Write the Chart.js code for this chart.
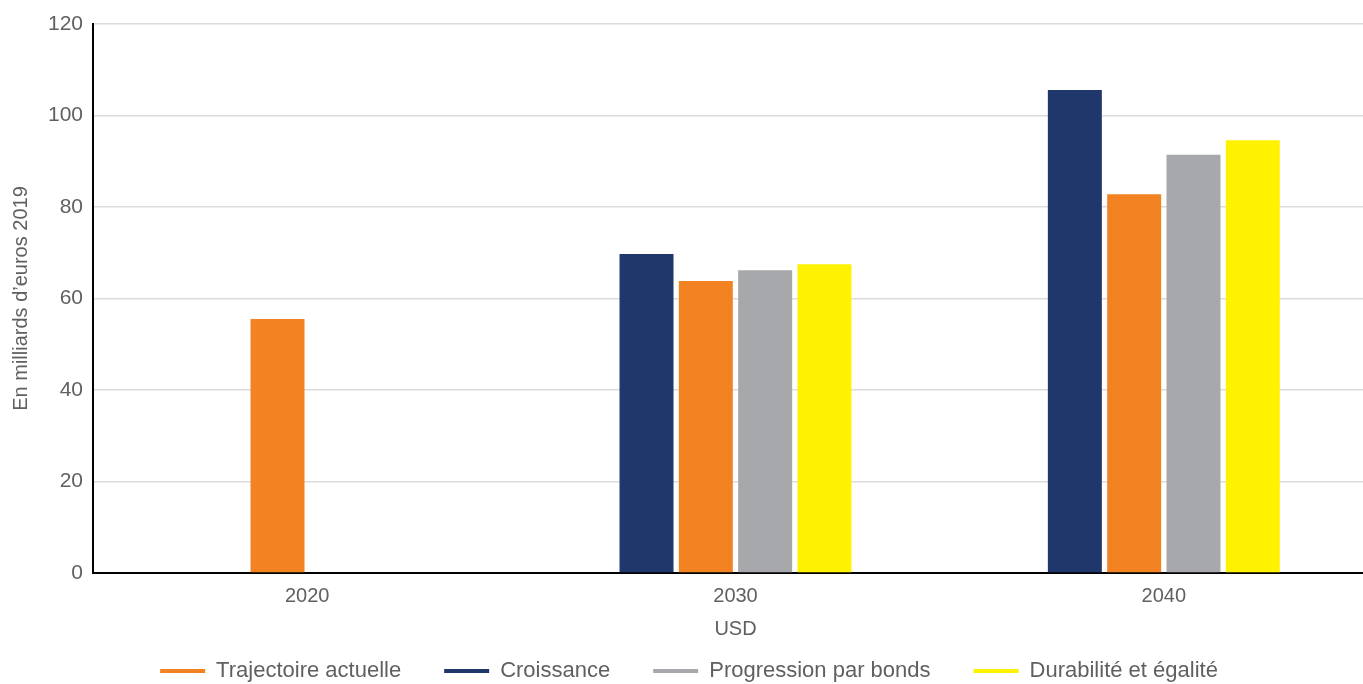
<!DOCTYPE html>
<html lang="fr">
<head>
<meta charset="utf-8">
<title>En milliards d’euros 2019</title>
<script src="https://cdn.jsdelivr.net/npm/chart.js@4/dist/chart.umd.min.js"></script>
<style>
  html, body { margin: 0; padding: 0; background: #fff; overflow: hidden; }
  canvas { display: block; }
</style>
</head>
<body>
<!-- a bit wider than the window: the plot runs past the right edge like the original -->
<canvas id="myChart" width="1378" height="692"></canvas>
<script>
// values
const years = ['2020', '2030', '2040'];
const croissance = [null, 69.7, 105.6];
const trajectoire = [55.5, 63.8, 82.8];
const progression = [null, 66.2, 91.4];
const durabilite = [null, 67.5, 94.6];
const yTicks = [0, 20, 40, 60, 80, 100, 120];

// legend lists the series in another order than the bars
const legendOrder = ['Trajectoire actuelle', 'Croissance', 'Progression par bonds', 'Durabilité et égalité'];

const textColor = '#606060';
const fontFamily = '"Liberation Sans", Arial, sans-serif';

function graphIt() {
  const ctx = document.getElementById('myChart');
  new Chart(ctx, {
    type: 'bar',
    data: {
      labels: years,
      datasets: [
        { label: 'Croissance', data: croissance, backgroundColor: '#1f376b' },
        { label: 'Trajectoire actuelle', data: trajectoire, backgroundColor: '#f38322' },
        { label: 'Progression par bonds', data: progression, backgroundColor: '#a7a8ab' },
        { label: 'Durabilité et égalité', data: durabilite, backgroundColor: '#fff200' }
      ]
    },
    options: {
      responsive: false,
      animation: false,
      events: [],
      categoryPercentage: 0.554,
      barPercentage: 0.91,
      layout: { padding: { top: 24, right: 0, left: 0, bottom: 0 } },
      plugins: {
        tooltip: { enabled: false },
        legend: {
          position: 'bottom',
          labels: {
            color: textColor,
            font: { family: fontFamily, size: 22 },
            boxWidth: 45,
            boxHeight: 4,
            padding: 43,
            sort: (a, b) => legendOrder.indexOf(a.text) - legendOrder.indexOf(b.text)
          }
        }
      },
      scales: {
        x: {
          afterFit: scale => { scale.height = 44; },
          grid: { display: false, drawTicks: false },
          border: { display: true, color: '#000', width: 2 },
          ticks: { color: textColor, font: { family: fontFamily, size: 20 }, padding: 11 },
          title: {
            display: true,
            text: 'USD',
            color: textColor,
            font: { family: fontFamily, size: 20 },
            padding: { top: 9, bottom: -24 }
          }
        },
        y: {
          min: 0,
          max: 120,
          afterFit: scale => { scale.width = 93; },
          afterBuildTicks: scale => { scale.ticks = yTicks.map(v => ({ value: v })); },
          grid: { color: '#dcdcdc', lineWidth: 1.5, drawTicks: false },
          border: { display: true, color: '#000', width: 2 },
          ticks: { color: textColor, font: { family: fontFamily, size: 21 }, padding: 10 },
          title: {
            display: true,
            text: 'En milliards d’euros 2019',
            color: textColor,
            font: { family: fontFamily, size: 20 },
            padding: { top: 9.5, bottom: 0 }
          }
        }
      }
    }
  });
}

graphIt();
</script>
</body>
</html>
